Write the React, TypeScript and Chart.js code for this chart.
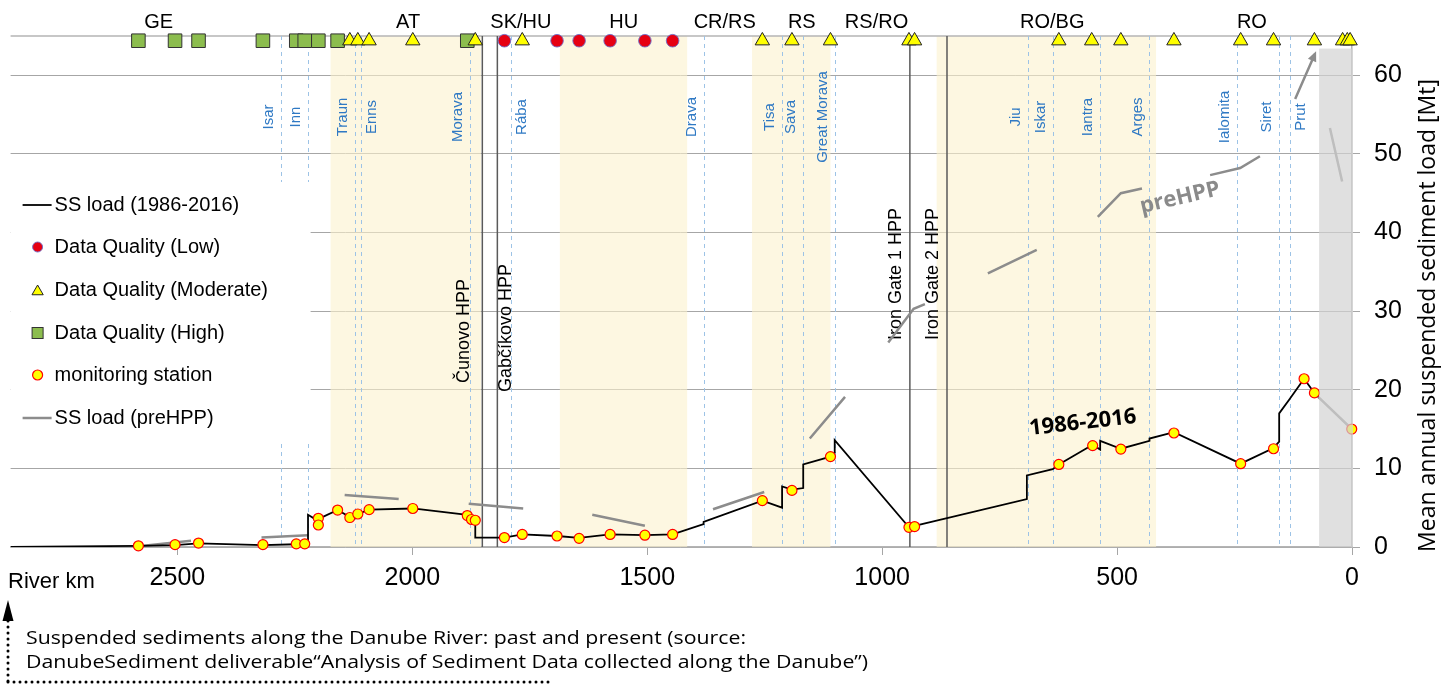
import React, { useEffect, useRef } from "react";
import { Chart, registerables } from "chart.js";

Chart.register(...registerables);

// ---------- data ----------
const X_TICKS = [2500, 2000, 1500, 1000, 500, 0];
const Y_TICKS = [0, 10, 20, 30, 40, 50, 60];
const KM_MAX = 2855;
const Y_MAX = 65;

// SS load (1986-2016): [river km, Mt]
const LOAD_1986_2016: [number, number][] = [
  [2855, 0.0], [2583, 0.15], [2505, 0.25], [2455, 0.45], [2318, 0.25], [2247, 0.35],
  [2229, 0.35], [2222, 0.2], [2222, 4.1], [2204, 3.45], [2159, 4.7], [2133, 3.8],
  [2116, 4.2], [2092, 4.75], [1999, 4.9], [1883, 4.1], [1866, 3.5], [1866, 1.2],
  [1804, 1.2], [1766, 1.6], [1692, 1.4], [1645, 1.15], [1579, 1.6], [1505, 1.5],
  [1446, 1.6], [1380, 2.9], [1380, 3.2], [1255, 5.9], [1213, 5.0], [1213, 7.7],
  [1192, 7.3], [1168, 7.5], [1168, 10.5], [1110, 11.5], [1101, 12.0], [1101, 13.6],
  [943, 2.5], [931, 2.7], [692, 6.1], [692, 9.1], [637, 9.9], [624, 10.5],
  [552, 13.0], [536, 12.4], [536, 13.5], [492, 12.5], [431, 13.5], [431, 13.8],
  [379, 14.6], [237, 10.6], [167, 12.6], [155, 13.4], [155, 17.0], [133, 18.8],
  [102, 21.4], [80, 19.6], [72, 19.1],
];

// SS load (preHPP) segments
const PRE_HPP_SEGMENTS: [number, number][][] = [
  [[2577, 0.13], [2471, 0.8]],
  [[2321, 1.2], [2222, 1.5]],
  [[2144, 6.6], [2029, 6.1]],
  [[1880, 5.5], [1764, 4.9]],
  [[1617, 4.1], [1505, 2.7]],
  [[1360, 4.8], [1251, 7.0]],
  [[1154, 13.8], [1079, 19.1]],
  [[987, 26.0], [933, 30.3], [909, 30.9]],
  [[775, 34.8], [671, 37.8]],
  [[541, 42.0], [492, 45.0], [447, 45.6]],
  [[302, 47.3], [238, 48.2], [196, 49.7]],
  [[121, 57.0], [79, 62.7]],
  [[47, 53.3], [21, 46.5]],
  [[72, 19.1], [0.6, 15.0]],
];
const ARROW_SEGMENT_INDEX = 11;

// monitoring stations
const STATIONS: [number, number][] = [
  [2583, 0.15], [2505, 0.3], [2455, 0.5], [2318, 0.3], [2247, 0.4], [2229, 0.4],
  [2200, 3.65], [2200, 2.8], [2159, 4.7], [2133, 3.75], [2116, 4.2], [2092, 4.75],
  [1999, 4.9], [1883, 4.0], [1874, 3.5], [1866, 3.4], [1804, 1.2], [1766, 1.6],
  [1692, 1.4], [1645, 1.1], [1579, 1.6], [1505, 1.5], [1446, 1.6], [1255, 5.9],
  [1192, 7.2], [1110, 11.5], [943, 2.5], [931, 2.6], [624, 10.5], [552, 12.9],
  [492, 12.45], [379, 14.5], [237, 10.6], [167, 12.5], [102, 21.4], [80, 19.6],
  [0.6, 15.0],
];

// data quality markers (top row)
const QUALITY_ROW_VALUE = 64.4;
const QUALITY_HIGH_KM = [2583, 2505, 2455, 2318, 2247, 2229, 2200, 2159, 1883];
const QUALITY_MODERATE_KM = [
  2133, 2116, 2092, 1999, 1866, 1766, 1255, 1192, 1110, 943, 931,
  624, 554, 492, 379, 237, 167, 80, 20, 10, 4,
];
const QUALITY_LOW_KM = [1804, 1692, 1645, 1579, 1505, 1446];

const COUNTRIES = [
  { name: "GE", km: 2540 }, { name: "AT", km: 2009 }, { name: "SK/HU", km: 1769 },
  { name: "HU", km: 1550 }, { name: "CR/RS", km: 1335 }, { name: "RS", km: 1171 },
  { name: "RS/RO", km: 1012 }, { name: "RO/BG", km: 638 }, { name: "RO", km: 213 },
];

const TRIBUTARIES = [
  { name: "Isar", km: 2279 }, { name: "Inn", km: 2222 }, { name: "Traun", km: 2122 },
  { name: "Enns", km: 2109 }, { name: "Morava", km: 1877 }, { name: "Rába", km: 1790 },
  { name: "Drava", km: 1380 }, { name: "Tisa", km: 1213 }, { name: "Sava", km: 1169 },
  { name: "Great Morava", km: 1101 }, { name: "Jiu", km: 690 }, { name: "Iskar", km: 637 },
  { name: "Iantra", km: 536 }, { name: "Arges", km: 431 }, { name: "Ialomita", km: 244 },
  { name: "Siret", km: 155 }, { name: "Prut", km: 133 },
];
const TRIB_RIGHT_SIDE = ["Rába", "Enns", "Prut"];

const HPPS = [
  { name: "Čunovo HPP", km: 1851 },
  { name: "Gabčíkovo HPP", km: 1819 },
  { name: "Iron Gate 1 HPP", km: 941 },
  { name: "Iron Gate 2 HPP", km: 862 },
];

const BANDS_KM: [number, number][] = [[2174, 1854], [1686, 1415], [1277, 1110], [884, 417]];
const DELTA_BAND_KM: [number, number] = [70, 0];
const DELTA_BAND_TOP = 63.4;

const NOTES = [
  { text: "1986-2016", km: 573, value: 15.8, angle: -6.5, color: "#000000", size: 22 },
  { text: "preHPP", km: 366, value: 44.4, angle: -13, color: "#8a8a8a", size: 22 },
];

const LEGEND_LABELS = [
  "SS load (1986-2016)",
  "Data Quality (Low)",
  "Data Quality (Moderate)",
  "Data Quality (High)",
  "monitoring station",
  "SS load (preHPP)",
];

const Y_TITLE = "Mean annual suspended sediment load [Mt]";
const X_TITLE = "River km";
const CAPTION_LINES = [
  "Suspended sediments along the Danube River: past and present (source:",
  "DanubeSediment deliverable\u201CAnalysis of Sediment Data collected along the Danube\u201D)",
];

// ---------- styles ----------
const ARIAL = "'Liberation Sans', Arial, sans-serif";
const OPEN = "'Open Sans', 'Noto Sans', sans-serif";
const GRAY_LINE = "#8c8c8c";
const TRIB_BLUE = "#2f79c4";
const GREEN = "#8cbd4e";
const RED = "#e60012";

function vtext(ctx: CanvasRenderingContext2D, text: string, x: number, y: number, align: CanvasTextAlign) {
  ctx.save();
  ctx.translate(x, y);
  ctx.rotate(-Math.PI / 2);
  ctx.textAlign = align;
  ctx.textBaseline = "middle";
  ctx.fillText(text, 0, 0);
  ctx.restore();
}

function triangle(ctx: CanvasRenderingContext2D, x: number, y: number, r: number) {
  ctx.beginPath();
  for (let i = 0; i < 3; i++) {
    const a = (i * 2 * Math.PI) / 3;
    const px = x + Math.sin(a) * r;
    const py = y - Math.cos(a) * r;
    if (i === 0) ctx.moveTo(px, py);
    else ctx.lineTo(px, py);
  }
  ctx.closePath();
}

const danubePlugin = {
  id: "danube",
  beforeDatasetsDraw(chart: any) {
    const { ctx, chartArea } = chart;
    const xs = chart.scales.x;
    const { top, bottom, left, right } = chartArea;
    ctx.save();
    // yellow bands
    ctx.fillStyle = "rgba(252,242,205,0.6)";
    BANDS_KM.forEach(([a, b]) => {
      const x1 = xs.getPixelForValue(a);
      const x2 = xs.getPixelForValue(b);
      ctx.fillRect(Math.min(x1, x2), top, Math.abs(x2 - x1), bottom - top);
    });
    // top border
    ctx.strokeStyle = "#b4b4b4";
    ctx.lineWidth = 1.5;
    ctx.beginPath();
    ctx.moveTo(left, top);
    ctx.lineTo(right, top);
    ctx.stroke();
    // tributary dashed lines
    ctx.strokeStyle = "#9dc3e6";
    ctx.lineWidth = 1;
    ctx.setLineDash([4, 4]);
    TRIBUTARIES.forEach((t) => {
      const x = Math.round(xs.getPixelForValue(t.km)) + 0.5;
      ctx.beginPath();
      ctx.moveTo(x, top);
      ctx.lineTo(x, bottom);
      ctx.stroke();
    });
    ctx.setLineDash([]);
    // HPP lines
    ctx.strokeStyle = "#5a5a5a";
    ctx.lineWidth = 1.5;
    HPPS.forEach((h) => {
      const x = xs.getPixelForValue(h.km);
      ctx.beginPath();
      ctx.moveTo(x, top);
      ctx.lineTo(x, bottom);
      ctx.stroke();
    });
    // tributary labels
    ctx.fillStyle = TRIB_BLUE;
    ctx.font = `15px ${ARIAL}`;
    TRIBUTARIES.forEach((t) => {
      const x = xs.getPixelForValue(t.km);
      const dx = TRIB_RIGHT_SIDE.includes(t.name) ? 11 : -12;
      vtext(ctx, t.name, x + dx, 117, "center");
    });
    // HPP labels
    ctx.fillStyle = "#000";
    ctx.font = `18px ${ARIAL}`;
    const hppOffsets = [
      { dx: -18, y: 383 },
      { dx: 9, y: 392 },
      { dx: -14, y: 340 },
      { dx: -14, y: 340 },
    ];
    HPPS.forEach((h, i) => {
      const x = xs.getPixelForValue(h.km);
      vtext(ctx, h.name, x + hppOffsets[i].dx, hppOffsets[i].y, "left");
    });
    // country labels
    ctx.font = `20px ${ARIAL}`;
    ctx.textAlign = "center";
    ctx.textBaseline = "middle";
    COUNTRIES.forEach((c) => {
      ctx.fillText(c.name, xs.getPixelForValue(c.km), top - 14);
    });
    ctx.restore();
  },
  afterDatasetsDraw(chart: any) {
    const { ctx, chartArea } = chart;
    const xs = chart.scales.x;
    const ys = chart.scales.y;
    const { bottom, left } = chartArea;
    ctx.save();
    // arrow head on preHPP segment
    const seg = PRE_HPP_SEGMENTS[ARROW_SEGMENT_INDEX];
    const p1 = { x: xs.getPixelForValue(seg[0][0]), y: ys.getPixelForValue(seg[0][1]) };
    const p2 = { x: xs.getPixelForValue(seg[1][0]), y: ys.getPixelForValue(seg[1][1]) };
    const ang = Math.atan2(p2.y - p1.y, p2.x - p1.x);
    ctx.fillStyle = GRAY_LINE;
    ctx.beginPath();
    ctx.moveTo(p2.x + Math.cos(ang) * 3, p2.y + Math.sin(ang) * 3);
    ctx.lineTo(p2.x - Math.cos(ang) * 7 - Math.sin(ang) * 4.5, p2.y - Math.sin(ang) * 7 + Math.cos(ang) * 4.5);
    ctx.lineTo(p2.x - Math.cos(ang) * 7 + Math.sin(ang) * 4.5, p2.y - Math.sin(ang) * 7 - Math.cos(ang) * 4.5);
    ctx.closePath();
    ctx.fill();
    // delta band (overlay)
    const dx1 = xs.getPixelForValue(DELTA_BAND_KM[0]);
    const dx2 = xs.getPixelForValue(DELTA_BAND_KM[1]);
    const dTop = ys.getPixelForValue(DELTA_BAND_TOP);
    ctx.fillStyle = "rgba(211,211,211,0.7)";
    ctx.fillRect(dx1, dTop, dx2 - dx1 + 1, bottom - dTop);
    // notes
    NOTES.forEach((n) => {
      ctx.save();
      ctx.translate(xs.getPixelForValue(n.km), ys.getPixelForValue(n.value));
      ctx.rotate((n.angle * Math.PI) / 180);
      ctx.fillStyle = n.color;
      ctx.font = `bold ${n.size}px ${OPEN}`;
      ctx.textAlign = "center";
      ctx.textBaseline = "middle";
      ctx.fillText(n.text, 0, 0);
      ctx.restore();
    });
    // legend box
    const lx = left;
    const ly = 182;
    ctx.fillStyle = "#ffffff";
    ctx.fillRect(lx, ly, 300, 258);
    const rows = [205, 247, 290, 333, 375, 418];
    ctx.font = `20px ${ARIAL}`;
    ctx.textAlign = "left";
    ctx.textBaseline = "middle";
    LEGEND_LABELS.forEach((label, i) => {
      const y = rows[i];
      const cx = lx + 27;
      if (i === 0 || i === 5) {
        ctx.strokeStyle = i === 0 ? "#000" : GRAY_LINE;
        ctx.lineWidth = i === 0 ? 1.8 : 2.5;
        ctx.beginPath();
        ctx.moveTo(lx + 12, y);
        ctx.lineTo(lx + 41, y);
        ctx.stroke();
      } else if (i === 1) {
        ctx.fillStyle = RED;
        ctx.strokeStyle = "rgba(110,110,200,0.9)";
        ctx.lineWidth = 1;
        ctx.beginPath();
        ctx.arc(cx, y, 5, 0, Math.PI * 2);
        ctx.fill();
        ctx.stroke();
      } else if (i === 2) {
        ctx.fillStyle = "#ffff00";
        ctx.strokeStyle = "#222";
        ctx.lineWidth = 1;
        triangle(ctx, cx, y + 1.5, 6.5);
        ctx.fill();
        ctx.stroke();
      } else if (i === 3) {
        ctx.fillStyle = GREEN;
        ctx.strokeStyle = "#333";
        ctx.lineWidth = 1;
        ctx.fillRect(cx - 5.5, y - 5.5, 11, 11);
        ctx.strokeRect(cx - 5.5, y - 5.5, 11, 11);
      } else if (i === 4) {
        ctx.fillStyle = "#ffff00";
        ctx.strokeStyle = "#ff0000";
        ctx.lineWidth = 1.2;
        ctx.beginPath();
        ctx.arc(cx, y, 5, 0, Math.PI * 2);
        ctx.fill();
        ctx.stroke();
      }
      ctx.fillStyle = "#000";
      ctx.fillText(label, lx + 44, y);
    });
    ctx.restore();
  },
  afterDraw(chart: any) {
    const { ctx, chartArea } = chart;
    ctx.save();
    ctx.fillStyle = "#000";
    // y title
    ctx.font = `23px ${OPEN}`;
    vtext(ctx, Y_TITLE, 1428, (chartArea.top + chartArea.bottom) / 2 + 24, "center");
    // x title
    ctx.font = `22px ${ARIAL}`;
    ctx.textAlign = "left";
    ctx.textBaseline = "middle";
    ctx.fillText(X_TITLE, 8, 582);
    // caption (horizontally widened like the original narrow-condensed face)
    ctx.font = `19px ${OPEN}`;
    ctx.textBaseline = "alphabetic";
    ctx.save();
    ctx.translate(26, 0);
    ctx.scale(1.12, 1);
    ctx.fillText(CAPTION_LINES[0], 0, 644);
    ctx.fillText(CAPTION_LINES[1], 0, 668);
    ctx.restore();
    // dotted arrow
    ctx.strokeStyle = "#000";
    ctx.lineWidth = 3;
    ctx.lineCap = "round";
    ctx.setLineDash([0, 6]);
    ctx.beginPath();
    ctx.moveTo(8, 681);
    ctx.lineTo(8, 620);
    ctx.stroke();
    ctx.beginPath();
    ctx.moveTo(8, 682);
    ctx.lineTo(552, 682);
    ctx.stroke();
    ctx.setLineDash([]);
    ctx.beginPath();
    ctx.moveTo(8, 600);
    ctx.lineTo(13.5, 621);
    ctx.lineTo(2.5, 621);
    ctx.closePath();
    ctx.fill();
    ctx.restore();
  },
};

function pts(arr: [number, number][]) {
  return arr.map(([x, y]) => ({ x, y }));
}

export default function App() {
  const ref = useRef<HTMLCanvasElement | null>(null);
  useEffect(() => {
    if (!ref.current) return;
    const preData: any[] = [];
    PRE_HPP_SEGMENTS.forEach((seg, i) => {
      seg.forEach(([x, y]) => preData.push({ x, y }));
      if (i < PRE_HPP_SEGMENTS.length - 1) preData.push({ x: seg[seg.length - 1][0], y: null });
    });
    const row = (kms: number[]) => kms.map((x) => ({ x, y: QUALITY_ROW_VALUE }));
    const chart = new Chart(ref.current, {
      type: "scatter",
      data: {
        datasets: [
          {
            label: "Data Quality (Moderate)",
            data: row(QUALITY_MODERATE_KM),
            pointStyle: "triangle",
            pointRadius: 8.3,
            backgroundColor: "#ffff00",
            borderColor: "#222222",
            borderWidth: 1,
            clip: false,
            order: 0,
          } as any,
          {
            label: "Data Quality (High)",
            data: row(QUALITY_HIGH_KM),
            pointStyle: "rect",
            pointRadius: 9.6,
            backgroundColor: GREEN,
            borderColor: "#333333",
            borderWidth: 1,
            clip: false,
            order: 0,
          } as any,
          {
            label: "Data Quality (Low)",
            data: row(QUALITY_LOW_KM),
            pointStyle: "circle",
            pointRadius: 6.3,
            backgroundColor: RED,
            borderColor: "rgba(110,110,200,0.9)",
            borderWidth: 1,
            clip: false,
            order: 0,
          } as any,
          {
            label: "monitoring station",
            data: pts(STATIONS),
            pointStyle: "circle",
            pointRadius: 5,
            backgroundColor: "#ffff00",
            borderColor: "#ff0000",
            borderWidth: 1.2,
            clip: false,
            order: 1,
          } as any,
          {
            type: "line",
            label: "SS load (1986-2016)",
            data: pts(LOAD_1986_2016),
            borderColor: "#000000",
            borderWidth: 1.8,
            pointRadius: 0,
            fill: false,
            tension: 0,
            order: 2,
          } as any,
          {
            type: "line",
            label: "SS load (preHPP)",
            data: preData,
            borderColor: GRAY_LINE,
            borderWidth: 2.5,
            pointRadius: 0,
            fill: false,
            spanGaps: false,
            tension: 0,
            order: 3,
          } as any,
        ],
      },
      options: {
        animation: false,
        responsive: false,
        events: [],
        layout: { padding: { left: 10, top: 36, right: 0, bottom: 0 } },
        plugins: { legend: { display: false }, tooltip: { enabled: false } },
        scales: {
          x: {
            type: "linear",
            reverse: true,
            min: 0,
            max: KM_MAX,
            afterBuildTicks: (s: any) => {
              s.ticks = X_TICKS.map((value) => ({ value }));
            },
            afterFit: (s: any) => {
              s.height = 137;
            },
            grid: { drawOnChartArea: false, drawTicks: true, tickLength: 8, color: "#a6a6a6" },
            border: { color: "#b4b4b4", width: 1.5 },
            ticks: {
              autoSkip: false,
              maxRotation: 0,
              padding: 8,
              color: "#000",
              font: { family: ARIAL, size: 25 },
              callback: (v: any) => String(v),
            },
          },
          y: {
            type: "linear",
            position: "right",
            min: 0,
            max: Y_MAX,
            afterBuildTicks: (s: any) => {
              s.ticks = Y_TICKS.map((value) => ({ value }));
            },
            afterFit: (s: any) => {
              s.width = 103;
            },
            grid: { color: "#a6a6a6", tickLength: 8, lineWidth: 1 },
            border: { color: "#b4b4b4", width: 1.5 },
            ticks: {
              padding: 14,
              color: "#000",
              font: { family: ARIAL, size: 25 },
              callback: (v: any) => String(v),
            },
          },
        },
      } as any,
      plugins: [danubePlugin],
    });
    return () => chart.destroy();
  }, []);
  return (
    <div style={{ position: "fixed", left: 0, top: 0, width: 1455, height: 684, background: "#fff" }}>
      <canvas ref={ref} width={1455} height={684} style={{ display: "block", width: 1455, height: 684 }} />
    </div>
  );
}
